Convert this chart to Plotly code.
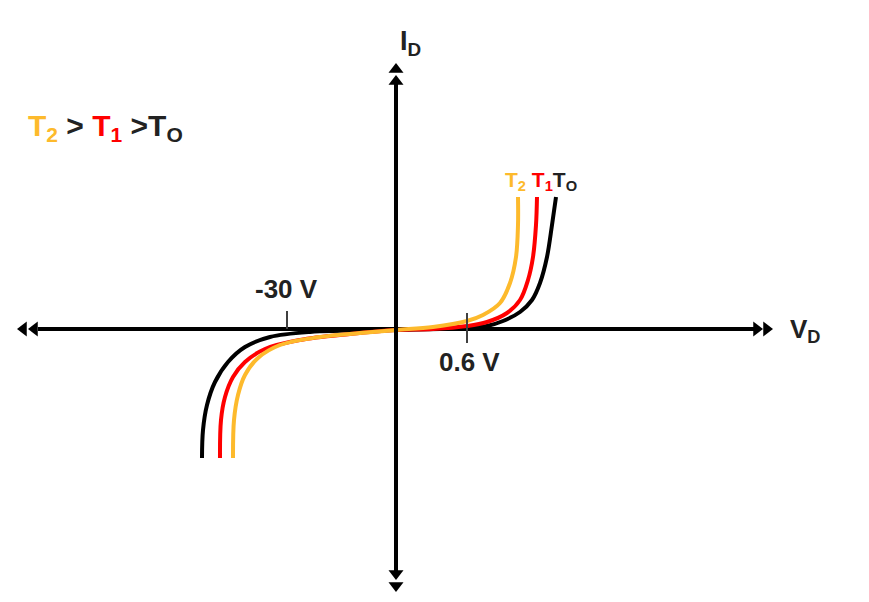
import plotly.graph_objects as go

# Diagram units: 1 unit = 1 px, origin where the axes cross
black_x = [-194, -193, -189, -181, -168, -151, -126, -86, 0, 44, 71, 91, 107, 124, 136, 144, 151, 156, 160]
black_y = [-129, -101, -76, -53, -33, -18, -8, -3, -1, 0, 1, 3, 8, 17, 29, 46, 72, 104, 132]
red_x = [-176, -175, -171, -163, -151, -131, -96, -46, 0, 37, 71, 91, 111, 124, 132, 137, 140, 141]
red_y = [-129, -91, -68, -48, -33, -20, -11, -5, -1, 0, 3, 7, 16, 29, 49, 72, 104, 132]
orange_x = [-163, -162, -158, -151, -138, -116, -76, -36, 0, 37, 71, 87, 104, 114, 120, 122, 122]
orange_y = [-129, -91, -66, -46, -29, -16, -8, -4, -1, 2, 8, 14, 26, 46, 72, 104, 132]

tick_labels = ["-30 V", "0.6 V"]
tick_pos = [-109, 71]

ORANGE = "#FDBA2C"
RED = "#FF0000"
BLACK = "#000000"
FONT = "Arial, Liberation Sans, sans-serif"

fig = go.Figure()

# horizontal axis line
fig.add_trace(go.Scatter(x=[-358, 361], y=[0, 0], mode="lines",
                         line=dict(color=BLACK, width=4), hoverinfo="skip"))

for xs, ys, c in [(black_x, black_y, BLACK), (red_x, red_y, RED), (orange_x, orange_y, ORANGE)]:
    fig.add_trace(go.Scatter(x=xs, y=ys, mode="lines",
                             line=dict(color=c, width=4, shape="spline", smoothing=1.0),
                             hoverinfo="skip"))

# vertical axis line
fig.add_trace(go.Scatter(x=[0, 0], y=[-244, 248], mode="lines",
                         line=dict(color=BLACK, width=4), hoverinfo="skip"))

# arrowheads (double)
s = 13
fig.add_trace(go.Scatter(x=[-372.5, -361.5], y=[0, 0], mode="markers",
                         marker=dict(symbol="triangle-left", size=s, color=BLACK), hoverinfo="skip"))
fig.add_trace(go.Scatter(x=[370.5, 360.5], y=[0, 0], mode="markers",
                         marker=dict(symbol="triangle-right", size=s, color=BLACK), hoverinfo="skip"))
fig.add_trace(go.Scatter(x=[0, 0], y=[259.5, 247.5], mode="markers",
                         marker=dict(symbol="triangle-up", size=s, color=BLACK), hoverinfo="skip"))
fig.add_trace(go.Scatter(x=[0, 0], y=[-256.5, -244.5], mode="markers",
                         marker=dict(symbol="triangle-down", size=s, color=BLACK), hoverinfo="skip"))

# tick marks
fig.add_trace(go.Scatter(x=[tick_pos[0], tick_pos[0]], y=[18, 0], mode="lines",
                         line=dict(color="#404040", width=2), hoverinfo="skip"))
fig.add_trace(go.Scatter(x=[tick_pos[1], tick_pos[1]], y=[16, -14], mode="lines",
                         line=dict(color="#404040", width=2), hoverinfo="skip"))

ann = []
ann.append(dict(x=tick_pos[0] - 1, y=40, text="<b>%s</b>" % tick_labels[0], showarrow=False,
                font=dict(family=FONT, size=26, color="#222222"), xanchor="center", yanchor="middle"))
ann.append(dict(x=tick_pos[1] + 2, y=-33, text="<b>%s</b>" % tick_labels[1], showarrow=False,
                font=dict(family=FONT, size=26, color="#222222"), xanchor="center", yanchor="middle"))
ann.append(dict(x=2, y=286, text="<b>I<sub>D</sub></b>", showarrow=False,
                font=dict(family=FONT, size=27, color="#222222"), xanchor="left", yanchor="middle"))
ann.append(dict(x=392, y=-1, text="<b>V<sub>D</sub></b>", showarrow=False,
                font=dict(family=FONT, size=26, color="#222222"), xanchor="left", yanchor="middle"))
ann.append(dict(x=-370, y=202,
                text="<b><span style='color:%s'>T<sub>2</sub></span> &gt; <span style='color:%s'>T<sub>1</sub></span> &gt;T<sub>O</sub></b>" % (ORANGE, RED),
                showarrow=False, font=dict(family=FONT, size=30, color="#222222"),
                xanchor="left", yanchor="middle"))
ann.append(dict(x=107, y=148,
                text="<b><span style='color:%s'>T<sub>2</sub></span> <span style='color:%s'>T<sub>1</sub></span>T<sub>O</sub></b>" % (ORANGE, RED),
                showarrow=False, font=dict(family=FONT, size=21, color="#222222"),
                xanchor="left", yanchor="middle"))

# page body has an 8px margin; shift ranges so the drawing lands where intended
fig.update_layout(
    width=869, height=602,
    margin=dict(l=0, r=0, t=0, b=0),
    paper_bgcolor="white", plot_bgcolor="white",
    showlegend=False,
    xaxis=dict(range=[-388, 481], visible=False, fixedrange=True),
    yaxis=dict(range=[-281, 321], visible=False, fixedrange=True),
    annotations=ann,
)

fig.write_html("out.html")
